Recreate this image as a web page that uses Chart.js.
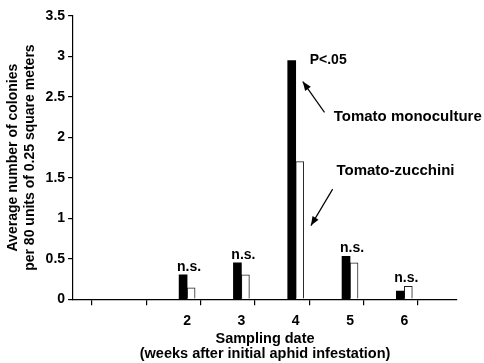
<!DOCTYPE html>
<html>
<head>
<meta charset="utf-8">
<script src="https://cdn.jsdelivr.net/npm/chart.js@4/dist/chart.umd.min.js"></script>
<style>
  html, body { margin: 0; padding: 0; background: #fff; }
  #wrap { width: 484px; height: 363px; }
</style>
</head>
<body>
<div id="wrap"><canvas id="c" width="484" height="363"></canvas></div>
<script>
// ---- data ----
const weeks = [2, 3, 4, 5, 6];
const monoculture = [0.30, 0.45, 2.95, 0.53, 0.10];
const zucchini = [0.14, 0.30, 1.70, 0.45, 0.16];
const significance = ['n.s.', 'n.s.', 'P<.05', 'n.s.', 'n.s.'];
const seriesNames = ['Tomato monoculture', 'Tomato-zucchini'];
const xTickMarks = [0.25, 1.25, 2.25, 3.25, 4.25, 5.25, 6.25];
const yTitle = ['Average number of colonies', 'per 80 units of 0.25 square meters'];
const xTitle = ['Sampling date', '(weeks after initial aphid infestation)'];

const FONT = 'Liberation Sans, Arial, Helvetica, sans-serif';
const fontBold = { family: FONT, size: 14, weight: 'bold' };

// annotation placement (data-space anchors)
const labelAnchors = [
  { text: seriesNames[0], x: 4.70, y: 2.25, arrowFrom: [4.53, 2.31], arrowTo: [4.13, 2.69] },
  { text: seriesNames[1], x: 4.75, y: 1.58, arrowFrom: [4.68, 1.36], arrowTo: [4.28, 0.91] }
];

function arrow(ctx, x1, y1, x2, y2) {
  ctx.beginPath();
  ctx.moveTo(x1, y1);
  ctx.lineTo(x2, y2);
  ctx.stroke();
  const a = Math.atan2(y2 - y1, x2 - x1);
  const L = 9, W = 3.5;
  ctx.beginPath();
  ctx.moveTo(x2, y2);
  ctx.lineTo(x2 - L * Math.cos(a) + W * Math.sin(a), y2 - L * Math.sin(a) - W * Math.cos(a));
  ctx.lineTo(x2 - L * Math.cos(a) - W * Math.sin(a), y2 - L * Math.sin(a) + W * Math.cos(a));
  ctx.closePath();
  ctx.fill();
}

const annot = {
  id: 'annot',
  afterDatasetsDraw(chart) {
    const ctx = chart.ctx;
    const xs = chart.scales.x, ys = chart.scales.y;
    ctx.save();
    ctx.fillStyle = '#000';
    ctx.strokeStyle = '#000';
    ctx.lineWidth = 1.2;
    ctx.font = 'bold 14px ' + FONT;
    weeks.forEach((w, i) => {
      const s = significance[i];
      const top = ys.getPixelForValue(Math.max(monoculture[i], zucchini[i]));
      if (s === 'n.s.') {
        ctx.textAlign = 'center';
        ctx.textBaseline = 'alphabetic';
        ctx.fillText(s, xs.getPixelForValue(w) + 2, top - 4);
      } else {
        ctx.textAlign = 'left';
        ctx.textBaseline = 'middle';
        ctx.fillText(s, xs.getPixelForValue(w) + 14, top);
      }
    });
    ctx.font = 'bold 15px ' + FONT;
    labelAnchors.forEach(l => {
      ctx.textAlign = 'left';
      ctx.textBaseline = 'middle';
      ctx.fillText(l.text, xs.getPixelForValue(l.x), ys.getPixelForValue(l.y));
      arrow(ctx,
        xs.getPixelForValue(l.arrowFrom[0]), ys.getPixelForValue(l.arrowFrom[1]),
        xs.getPixelForValue(l.arrowTo[0]), ys.getPixelForValue(l.arrowTo[1]));
    });
    ctx.restore();
  }
};

new Chart(document.getElementById('c'), {
  type: 'bar',
  data: {
    datasets: [
      {
        label: seriesNames[0],
        data: weeks.map((w, i) => ({ x: w, y: monoculture[i] })),
        backgroundColor: '#000',
        borderColor: '#000',
        borderWidth: 0,
        barThickness: 8,
        xAxisID: 'x'
      },
      {
        label: seriesNames[1],
        data: weeks.map((w, i) => ({ x: w, y: zucchini[i] })),
        backgroundColor: '#fff',
        borderColor: '#222',
        borderWidth: 1,
        barThickness: 8,
        xAxisID: 'x'
      }
    ]
  },
  options: {
    responsive: false,
    animation: false,
    events: [],
    layout: { padding: { left: 5, right: 27, top: 16, bottom: 2 } },
    plugins: { legend: { display: false }, tooltip: { enabled: false } },
    scales: {
      x: {
        type: 'linear',
        position: 'bottom',
        weight: 0,
        min: -0.1,
        max: 6.97,
        offset: false,
        afterBuildTicks: s => { s.ticks = xTickMarks.map(v => ({ value: v })); },
        ticks: { display: false },
        grid: { display: true, offset: false, drawOnChartArea: false, drawTicks: true, tickLength: 6, color: '#000', lineWidth: 1.2 },
        border: { display: true, color: '#000', width: 1.2 }
      },
      x2: {
        type: 'linear',
        position: 'bottom',
        weight: 1,
        min: -0.1,
        max: 6.97,
        offset: false,
        afterBuildTicks: s => { s.ticks = weeks.map(v => ({ value: v })); },
        ticks: { color: '#000', font: fontBold, padding: 0, maxRotation: 0, autoSkip: false, callback: v => String(v) },
        grid: { display: false, offset: false },
        border: { display: false },
        title: { display: true, text: xTitle, color: '#000', font: { family: FONT, size: 14.5, weight: 'bold', lineHeight: 1.0 }, padding: { top: 2, bottom: 0 } }
      },
      y: {
        min: 0,
        max: 3.5,
        ticks: { stepSize: 0.5, color: '#000', font: fontBold, padding: 3, callback: v => String(Math.round(v * 10) / 10) },
        grid: { display: true, drawOnChartArea: false, drawTicks: true, tickLength: 5, color: '#000', lineWidth: 1.2 },
        border: { display: true, color: '#000', width: 1.2 },
        title: { display: true, text: yTitle, color: '#000', font: { family: FONT, size: 14, weight: 'bold' }, padding: { top: 0, bottom: 4 } }
      }
    }
  },
  plugins: [annot]
});
</script>
</body>
</html>
